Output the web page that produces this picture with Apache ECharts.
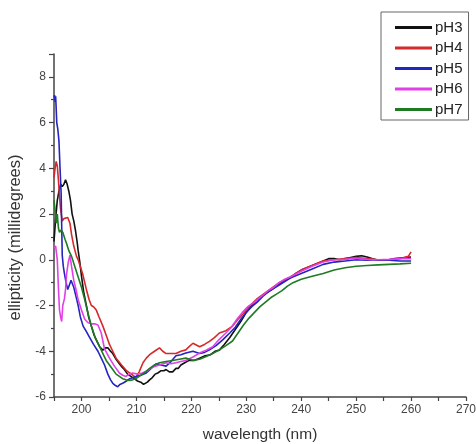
<!DOCTYPE html>
<html><head><meta charset="utf-8">
<script src="https://cdn.jsdelivr.net/npm/echarts@6/dist/echarts.min.js"></script>
<style>html,body{margin:0;padding:0;background:#fff}#c{width:476px;height:444px}</style>
</head><body><div id="c"></div>
<script>
var seriesNames = ['pH3','pH4','pH5','pH6','pH7'];
var seriesColors = ['#111111','#d42a2a','#2424c0','#e040e6','#1f7a24'];
var xTickLabels = [200,210,220,230,240,250,260,270];
var yTickLabels = [-6,-4,-2,0,2,4,6,8];

var pH3 = [[195,0.8],[195.3,1.8],[195.6,2.6],[195.9,3.0],[196.2,3.3],[196.5,3.2],[196.8,3.3],[197.1,3.5],[197.4,3.3],[197.7,3.0],[198,2.6],[198.3,2.0],[198.6,1.7],[198.9,1.3],[199.2,0.8],[199.4,0.4],[199.7,-0.1],[200,-0.7],[200.4,-1.4],[200.9,-2.0],[201.3,-2.5],[201.8,-2.9],[202.3,-3.3],[202.7,-3.5],[203.3,-3.8],[203.9,-3.95],[204.4,-3.85],[204.8,-3.85],[205.3,-4.0],[205.7,-4.1],[206.3,-4.35],[206.9,-4.55],[207.4,-4.7],[207.8,-4.8],[208.4,-5.0],[209,-5.1],[209.6,-5.2],[210.2,-5.3],[210.8,-5.35],[211.3,-5.45],[211.6,-5.5],[212,-5.35],[212.4,-5.25],[212.9,-5.15],[213.4,-5.0],[213.9,-4.95],[214.5,-4.85],[215,-4.85],[215.4,-4.8],[216,-4.9],[216.6,-4.9],[217.2,-4.75],[217.6,-4.75],[218.1,-4.6],[218.8,-4.5],[219.6,-4.4],[220.5,-4.4],[221.5,-4.3],[222.5,-4.2],[223.5,-4.15],[224.3,-4.0],[225.1,-3.95],[226,-3.7],[227,-3.4],[228,-3.05],[229,-2.7],[230,-2.3],[231,-2.0],[232,-1.75],[233,-1.55],[234,-1.4],[235,-1.25],[236,-1.05],[237,-0.9],[238,-0.8],[239,-0.6],[240,-0.45],[241,-0.35],[242,-0.25],[243,-0.15],[244,-0.05],[245,0.05],[246,0.05],[247,0.0],[248,0.05],[249,0.1],[250,0.15],[251,0.18],[252,0.12],[253,0.05],[254,-0.02],[255,-0.02],[256,0.0],[257,0.05],[258,0.08],[259,0.1],[260,0.12]];

var pH4 = [[195,3.6],[195.2,4.0],[195.4,4.3],[195.6,4.1],[195.8,3.5],[196,2.8],[196.2,2.2],[196.5,1.7],[196.8,1.8],[197.1,1.8],[197.5,1.85],[197.9,1.6],[198.2,1.1],[198.6,0.6],[199.1,0.15],[199.4,0.0],[199.8,-0.3],[200.2,-0.6],[200.6,-1.0],[201.0,-1.4],[201.4,-1.75],[201.8,-2.0],[202.2,-2.05],[202.7,-2.2],[203.2,-2.5],[203.9,-2.9],[204.5,-3.3],[205.1,-3.7],[205.7,-4.0],[206.3,-4.3],[207.3,-4.6],[208.2,-4.85],[209.1,-5.0],[209.9,-5.15],[210.5,-4.9],[211.2,-4.5],[211.8,-4.3],[212.4,-4.15],[213.3,-4.0],[214.2,-3.85],[214.8,-4.0],[215.4,-4.1],[216.3,-4.1],[217.2,-4.1],[218.1,-4.0],[219,-3.94],[219.6,-3.8],[220.3,-3.65],[221.5,-3.8],[222.4,-3.7],[223.3,-3.57],[224.2,-3.4],[225.1,-3.2],[226.3,-3.1],[227.5,-2.9],[228.5,-2.6],[229.5,-2.35],[230.5,-2.05],[232,-1.7],[234,-1.35],[236,-1.0],[238,-0.75],[240,-0.45],[242,-0.25],[244,-0.05],[246,0.0],[248,0.05],[250,0.1],[252,0.05],[254,0.0],[256,0.0],[258,0.05],[259.5,0.15],[260,0.35]];

var pH5 = [[195,7.1],[195.1,7.2],[195.2,6.9],[195.3,7.15],[195.4,6.6],[195.5,6.0],[195.7,5.7],[195.9,5.2],[196.1,4.0],[196.3,2.9],[196.4,1.5],[196.5,0.2],[196.7,-0.3],[196.9,-0.6],[197.2,-1.0],[197.5,-1.3],[197.8,-1.1],[198.1,-0.9],[198.3,-0.9],[198.6,-1.2],[199,-1.6],[199.4,-2.0],[199.8,-2.5],[200.3,-2.9],[200.8,-3.1],[201.5,-3.4],[202.2,-3.7],[203,-4.0],[203.6,-4.3],[204.2,-4.6],[204.8,-5.0],[205.3,-5.25],[205.7,-5.4],[206.2,-5.5],[206.6,-5.55],[207.0,-5.45],[207.5,-5.4],[208.2,-5.3],[208.8,-5.2],[209.4,-5.15],[209.9,-5.1],[210.8,-5.05],[211.8,-4.95],[212.7,-4.75],[213.6,-4.55],[214.5,-4.6],[215.4,-4.65],[216.3,-4.45],[217.2,-4.2],[218.1,-4.15],[219,-4.08],[220.3,-4.0],[221.5,-4.1],[222.4,-4.05],[223.3,-3.94],[224.5,-3.75],[225.7,-3.5],[227,-3.2],[228,-2.95],[229,-2.6],[230,-2.3],[231,-2.05],[232,-1.85],[233,-1.6],[234,-1.4],[235,-1.25],[236,-1.1],[237,-0.95],[238,-0.8],[240,-0.6],[242,-0.4],[244,-0.2],[246,-0.1],[248,-0.05],[250,0.0],[252,-0.02],[254,0.0],[256,-0.02],[258,-0.05],[260,-0.05]];

var pH6 = [[195,0.5],[195.3,0.6],[195.6,0.0],[195.8,-1.2],[196,-2.2],[196.2,-2.5],[196.4,-2.7],[196.6,-2.0],[196.9,-1.7],[197.1,-1.3],[197.3,-0.6],[197.6,-0.1],[197.9,0.2],[198.2,-0.3],[198.6,-0.9],[199,-1.3],[199.4,-1.75],[200,-2.2],[200.6,-2.6],[201.2,-2.75],[201.8,-2.8],[202.4,-2.8],[203,-2.85],[203.6,-3.2],[204.2,-3.9],[205.1,-4.3],[206,-4.65],[206.9,-4.95],[207.5,-5.05],[208.1,-5.1],[208.7,-5.0],[209.3,-4.95],[210.2,-5.0],[211.1,-4.95],[212,-4.85],[212.9,-4.7],[214.2,-4.6],[215.4,-4.5],[216.3,-4.55],[217.2,-4.5],[218.1,-4.45],[219,-4.4],[220.3,-4.25],[221.5,-4.08],[222.7,-3.95],[223.9,-3.8],[225,-3.5],[226.3,-3.2],[227.3,-2.95],[228.3,-2.6],[229.3,-2.3],[230.3,-2.05],[231.5,-1.85],[233,-1.55],[234,-1.35],[235,-1.2],[236,-1.0],[237,-0.85],[238,-0.75],[240,-0.5],[242,-0.28],[244,-0.1],[246,0.0],[248,0.02],[250,0.07],[252,0.02],[254,0.0],[256,0.02],[258,0.05],[260,0.05]];

var pH7 = [[195,2.6],[195.2,2.2],[195.4,1.6],[195.6,2.0],[195.8,1.4],[196,1.2],[196.3,1.3],[196.6,1.2],[197,0.9],[197.3,0.7],[197.7,0.4],[198.2,0.15],[198.8,-0.3],[199.4,-0.75],[200,-1.2],[200.6,-1.75],[201.2,-2.35],[201.8,-2.9],[202.5,-3.4],[203.3,-3.8],[203.9,-4.1],[204.5,-4.4],[205.1,-4.6],[205.7,-4.8],[206.3,-5.0],[206.9,-5.1],[207.5,-5.2],[208.1,-5.25],[208.7,-5.28],[209.3,-5.25],[209.9,-5.2],[210.5,-5.1],[211.4,-4.95],[212.4,-4.75],[213.3,-4.6],[214.2,-4.5],[215.4,-4.45],[216.6,-4.4],[217.8,-4.35],[219,-4.3],[219.7,-4.35],[220.3,-4.4],[221.5,-4.35],[222.7,-4.23],[223.9,-4.1],[225.1,-3.94],[226.3,-3.75],[227.5,-3.55],[228.5,-3.2],[229.5,-2.85],[230.5,-2.55],[231.5,-2.3],[232.5,-2.05],[233.5,-1.85],[234.5,-1.65],[235.5,-1.5],[236.5,-1.35],[237.5,-1.15],[238.5,-1.0],[240,-0.85],[242,-0.72],[244,-0.6],[246,-0.45],[248,-0.35],[250,-0.28],[252,-0.25],[254,-0.22],[256,-0.2],[258,-0.18],[260,-0.15]];

var allData = [pH3, pH4, pH5, pH6, pH7];
var FONT = 'Liberation Sans, Arial, sans-serif';
var axisCol = '#444';

var chart = echarts.init(document.getElementById('c'), null, {renderer: 'canvas'});
chart.setOption({
  animation: false,
  backgroundColor: '#fff',
  grid: {left: 54, right: 10, top: 54, bottom: 47, containLabel: false, outerBoundsMode: 'none'},
  legend: {
    orient: 'vertical', left: 381, top: 12,
    width: 88,
    padding: [8, 6, 3, 14], itemGap: 5.5, itemWidth: 37, itemHeight: 14,
    borderColor: '#666', borderWidth: 1, borderRadius: 0,
    backgroundColor: '#fff',
    textStyle: {fontFamily: FONT, fontSize: 15, color: '#222', padding: [0,0,0,-2]},
    data: seriesNames.map(function(n){ return {name: n, icon: 'path://M0,0H37V3H0Z'}; }),
    symbolKeepAspect: true
  },
  xAxis: {
    type: 'value', min: 195, max: 270, interval: 5,
    name: 'wavelength (nm)', nameLocation: 'middle', nameGap: 30,
    nameTextStyle: {fontFamily: FONT, fontSize: 15.5, color: '#333'},
    axisLine: {show: true, onZero: false, lineStyle: {color: axisCol, width: 1.5}},
    axisTick: {show: true, length: 4, inside: false, lineStyle: {color: axisCol, width: 1.2}},
    axisLabel: {margin: 7, fontFamily: FONT, fontSize: 12, color: '#444',
      formatter: function(v){ return xTickLabels.indexOf(v) >= 0 ? String(v) : ''; }},
    splitLine: {show: false}
  },
  yAxis: {
    type: 'value', min: -6, max: 9, interval: 2,
    name: 'ellipticity (millidegrees)', nameLocation: 'middle', nameGap: 28, nameRotate: 90,
    nameTextStyle: {fontFamily: FONT, fontSize: 16.5, color: '#333', padding: [0, 24, 0, 0]},
    axisLine: {show: true, onZero: false, lineStyle: {color: axisCol, width: 1.5}},
    axisTick: {show: true, length: 5, lineStyle: {color: axisCol, width: 1.2}},
    minorTick: {show: true, splitNumber: 2, length: 3, lineStyle: {color: axisCol, width: 1.2}},
    axisLabel: {margin: 8, fontFamily: FONT, fontSize: 12, color: '#444',
      formatter: function(v){ return yTickLabels.indexOf(v) >= 0 ? String(v) : ''; }},
    splitLine: {show: false}
  },
  series: seriesNames.map(function(n, i){
    return {
      name: n, type: 'line', data: allData[i], showSymbol: false, symbol: 'none',
      color: seriesColors[i],
      lineStyle: {color: seriesColors[i], width: 1.6},
      itemStyle: {color: seriesColors[i]},
      clip: true
    };
  })
});
</script></body></html>
